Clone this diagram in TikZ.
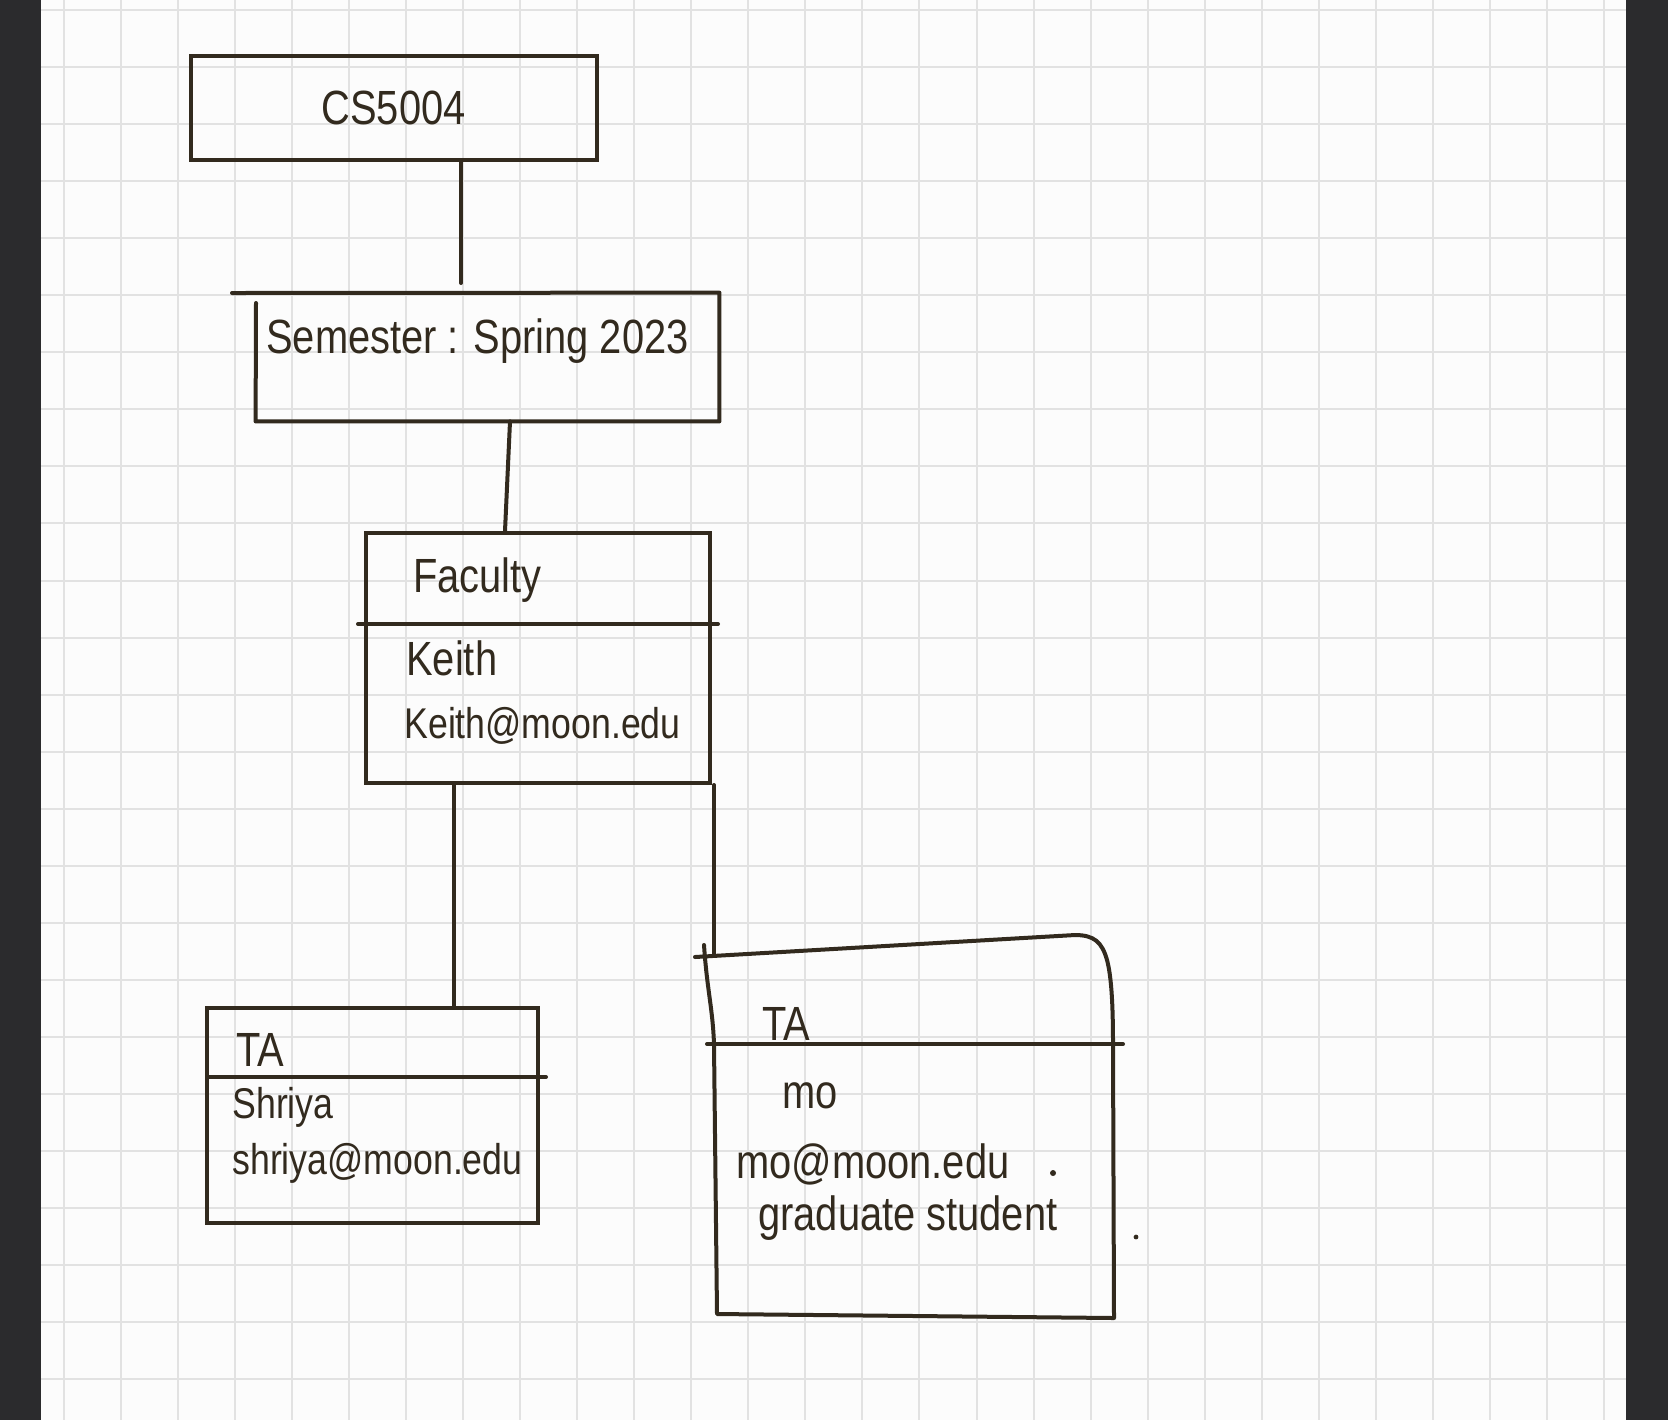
\documentclass[tikz,border=0pt]{standalone}
\usepackage{fontspec}
\setmainfont[FakeStretch=0.83]{Liberation Sans}
\definecolor{inkc}{RGB}{50,42,30}
\definecolor{gridc}{RGB}{226,226,226}
\definecolor{barc}{RGB}{43,43,45}
\begin{document}
\begin{tikzpicture}[x=0.5pt,y=-0.5pt,
  ink/.style={draw=inkc,line width=2pt,line cap=round,line join=round},
  txt/.style={font=\fontsize{24}{28}\selectfont,text=inkc,inner sep=0pt,anchor=base west},
  smalltxt/.style={txt,font=\fontsize{21.5}{26}\selectfont},
  box/.style={draw=inkc,line width=2pt,rectangle,inner sep=0pt,font=\fontsize{24}{28}\selectfont,text=inkc},
  ghost/.style={rectangle,inner sep=0pt}]
\useasboundingbox (0,0) rectangle (1668,1420);
\fill[white!99!black] (0,0) rectangle (1668,1420);
\foreach \i in {0,...,27} \draw[gridc,line width=1pt] ({63.7+57.05*\i},0) -- ({63.7+57.05*\i},1420);
\foreach \j in {0,...,24} \draw[gridc,line width=1pt] (41,{10+57.05*\j}) -- (1626,{10+57.05*\j});
\fill[barc] (0,0) rectangle (41,1420);
\fill[barc] (1626,0) rectangle (1668,1420);

% CS5004
\node[box,minimum width=203pt,minimum height=52pt] (cs) at (393.5,107.5) {CS5004};

% Semester
\node[ghost,minimum width=231.5pt,minimum height=64pt] (sem) at (487.5,357) {};
\draw[ink] (232,293) -- (sem.north east) -- (sem.south east) -- (sem.south west) -- (256,303);
\node[txt] (semt) at (266,353) {Semester : Spring 2023};

% Faculty
\node[box,minimum width=172pt,minimum height=125pt] (fac) at (538,658) {};
\draw[ink] (358,624) -- (718,624);
\node[txt] (fact) at (413,592) {Faculty};
\node[txt] (facn) at (406,675) {Keith};
\node[smalltxt] (face) at (404,738) {Keith@moon.edu};

% TA Shriya
\node[box,minimum width=165.5pt,minimum height=107.5pt] (ta1) at (372.5,1115.5) {};
\draw[ink] (209,1077) -- (546,1077);
\node[txt] (ta1t) at (236,1066) {TA};
\node[smalltxt] (ta1n) at (232,1118) {Shriya};
\node[smalltxt] (ta1e) at (232,1174) {shriya@moon.edu};

% TA Mo
\node[ghost,minimum width=205pt,minimum height=185pt] (mo) at (910,1130) {};
\draw[ink] (704,945) .. controls (707,990) and (713,1010) .. (714,1045) -- (717,1314) -- (1114,1318) -- (1113,1045) .. controls (1113,1000) and (1111,975) .. (1107,960) .. controls (1102,942) and (1094,935) .. (1075,935) -- (695,957);
\draw[ink] (707,1044) -- (1123,1044);
\node[txt] (mot) at (762,1040) {TA};
\node[txt] (mon) at (782,1108) {mo};
\node[txt] (moe) at (736,1178) {mo@moon.edu};
\node[txt] (mos) at (758,1230) {graduate student};
\fill[inkc] (1053,1173) circle (1.5pt);
\fill[inkc] (1136,1237) circle (1.2pt);

% connectors
\coordinate (c1) at (461,283);
\coordinate (c2a) at (510,0);
\coordinate (c2b) at (505,0);
\coordinate (c3) at (714,955);
\coordinate (c4) at (453.6,0);
\draw[ink] (cs.south -| c1) -- (c1);
\draw[ink] (sem.south -| c2a) -- (fac.north -| c2b);
\draw[ink] (fac.south -| c4) -- (ta1.north -| c4);
\draw[ink] (fac.south east -| c3) -- (c3);
\end{tikzpicture}
\end{document}
